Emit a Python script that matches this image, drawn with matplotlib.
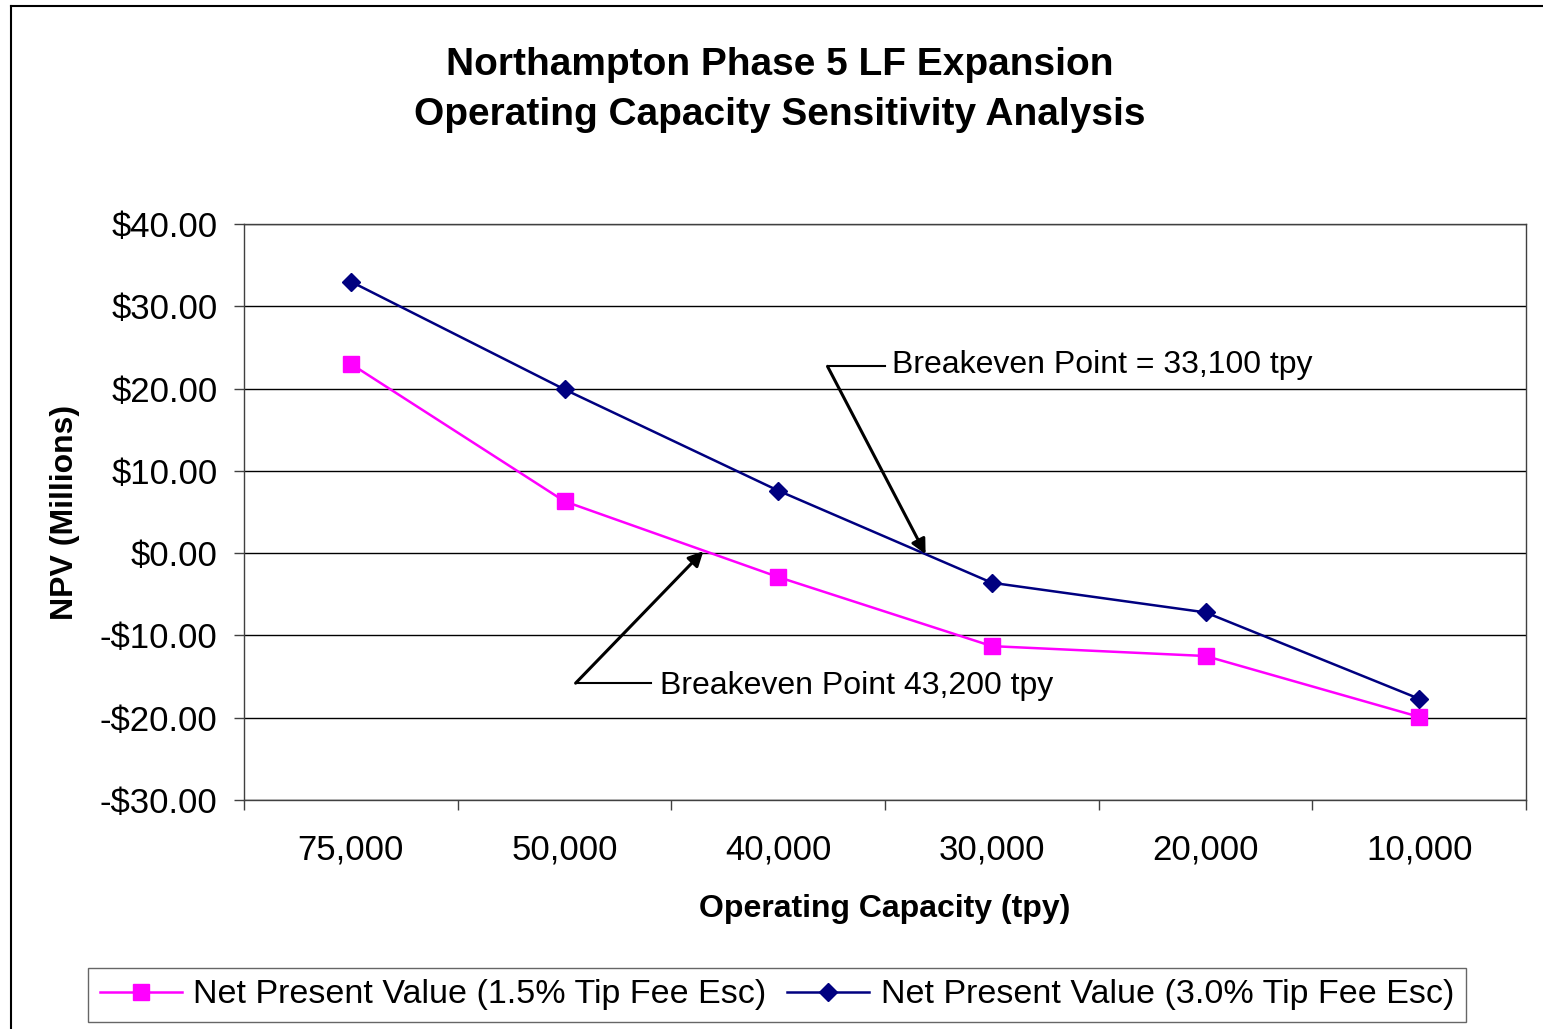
import matplotlib.pyplot as plt
import numpy as np
from matplotlib.lines import Line2D

plt.rcParams['font.family'] = ['Liberation Sans', 'DejaVu Sans']

# data
capacidades = ['75,000', '50,000', '40,000', '30,000', '20,000', '10,000']
npv_15 = [23.0, 6.3, -2.9, -11.3, -12.5, -19.9]
npv_30 = [33.0, 19.9, 7.6, -3.6, -7.2, -17.7]
serie_15 = 'Net Present Value (1.5% Tip Fee Esc)'
serie_30 = 'Net Present Value (3.0% Tip Fee Esc)'
y_ticks = [-30, -20, -10, 0, 10, 20, 30, 40]

# breakeven points (tpy)
be_30 = 33100
be_15 = 43200


def posicion(tpy, cats):
    # interpolate a capacity value onto the category axis
    vals = [int(c.replace(',', '')) for c in cats]
    for i in range(len(vals) - 1):
        if vals[i] >= tpy >= vals[i + 1]:
            return i + (vals[i] - tpy) / (vals[i] - vals[i + 1])
    return 0


def interp_y(pos, serie):
    i = int(pos)
    f = pos - i
    return serie[i] + f * (serie[i + 1] - serie[i])


fig = plt.figure(figsize=(15.43, 10.29), dpi=100)
ax = fig.add_axes([244 / 1543, 1 - 800 / 1029, 1282 / 1543, 576 / 1029])

x = np.arange(len(capacidades))
ax.plot(x, npv_15, color='#FF00FF', lw=1.8, marker='s', markersize=11,
        label=serie_15, zorder=3)
ax.plot(x, npv_30, color='#000080', lw=1.8, marker='D', markersize=9.5,
        label=serie_30, zorder=3)

ax.set_xlim(-0.5, len(capacidades) - 0.5)
ax.set_ylim(-30, 40)
ax.set_yticks(y_ticks)
ax.set_yticklabels([('-$%.2f' % abs(v)) if v < 0 else ('$%.2f' % v) for v in y_ticks])
ax.yaxis.grid(True, color='#000000', lw=1)
ax.set_axisbelow(True)

ax.set_xticks(np.arange(-0.5, len(capacidades), 1))
ax.set_xticklabels([])
ax.set_xticks(x, minor=True)
ax.set_xticklabels(capacidades, minor=True)
ax.tick_params(axis='x', which='minor', length=0, pad=24, labelsize=25)
ax.tick_params(axis='x', which='major', direction='out', length=7, width=1, color='#404040')
ax.tick_params(axis='y', direction='out', length=7, width=1, color='#404040', pad=12, labelsize=25)
for s in ax.spines.values():
    s.set_color('#404040')
    s.set_linewidth(1)

ax.set_xlabel('Operating Capacity (tpy)', fontsize=23, fontweight='bold', labelpad=20)
fig.text(65 / 1543, 1 - 512 / 1029, 'NPV (Millions)', rotation=90, fontsize=23,
         fontweight='bold', ha='center', va='center')

fig.text(780 / 1543, 1 - 90 / 1029,
         'Northampton Phase 5 LF Expansion\nOperating Capacity Sensitivity Analysis',
         ha='center', va='center', fontsize=28, fontweight='bold', linespacing=1.5)

# breakeven annotations
p30 = posicion(be_30, capacidades)
p15 = posicion(be_15, capacidades)
ax.plot([2.231, 2.498], [22.7, 22.7], color='black', lw=1.5)
ax.annotate('', xy=(p30, interp_y(p30, npv_30)), xytext=(2.231, 22.7),
            arrowprops=dict(arrowstyle='-|>', color='black', lw=2.2, mutation_scale=22,
                            shrinkA=0, shrinkB=0))
ax.text(2.535, 22.85, 'Breakeven Point = 33,100 tpy', fontsize=23, va='center', ha='left')

ax.plot([1.052, 1.403], [-15.8, -15.8], color='black', lw=1.5)
ax.annotate('', xy=(p15 - 0.03, interp_y(p15, npv_15) + 0.2), xytext=(1.052, -15.8),
            arrowprops=dict(arrowstyle='-|>', color='black', lw=2.2, mutation_scale=22,
                            shrinkA=0, shrinkB=0))
ax.text(1.445, -16.15, 'Breakeven Point 43,200 tpy', fontsize=23, va='center', ha='left')

leg = fig.legend(loc='center', bbox_to_anchor=(777 / 1543, 1 - 995 / 1029), ncol=2,
                 fontsize=24.5, frameon=True, fancybox=False, edgecolor='#404040',
                 handlelength=2.4, handletextpad=0.35, columnspacing=0.6,
                 borderpad=0.35, borderaxespad=0)
leg.get_frame().set_linewidth(1)

# outer chart frame (left and top edges)
fig.add_artist(Line2D([11 / 1543, 11 / 1543], [0, 1 - 6 / 1029], color='black', lw=1.5,
                      transform=fig.transFigure))
fig.add_artist(Line2D([11 / 1543, 1542 / 1543], [1 - 6 / 1029, 1 - 6 / 1029], color='black',
                      lw=1.5, transform=fig.transFigure))

fig.savefig('out.png', dpi=100)
